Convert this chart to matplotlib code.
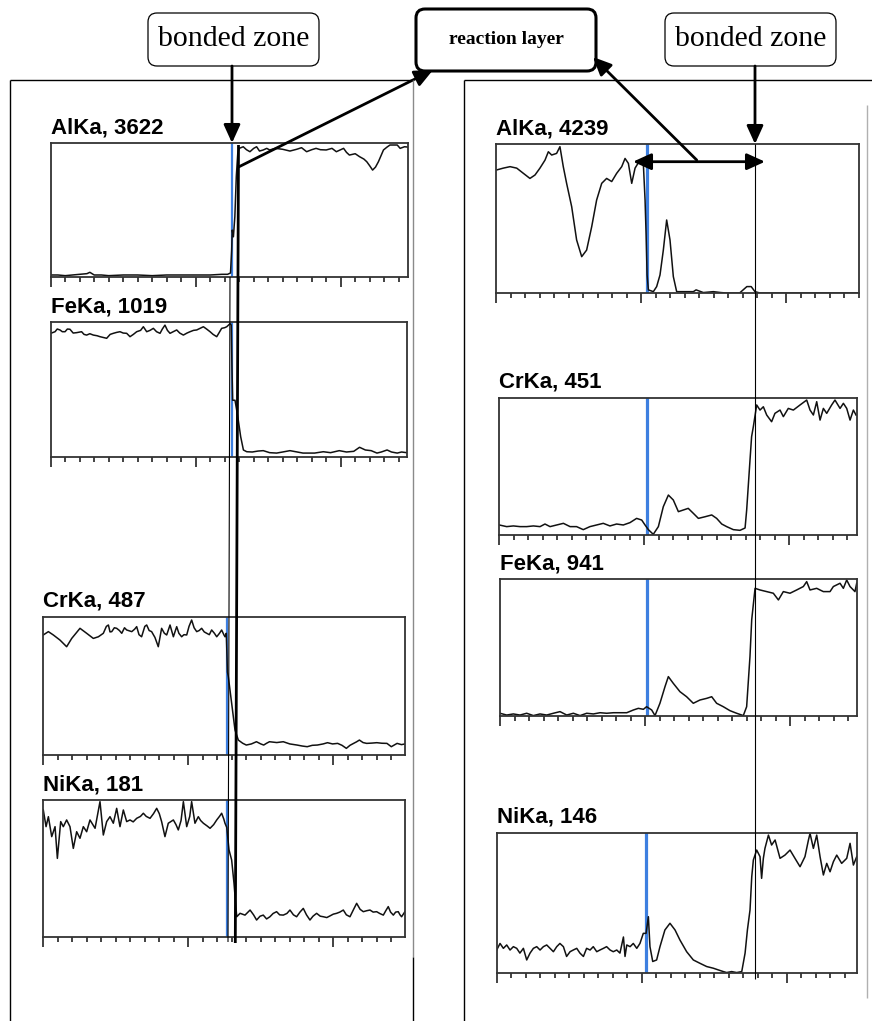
import numpy as np
import matplotlib
matplotlib.use('Agg')
import matplotlib.pyplot as plt
from matplotlib.patches import FancyArrowPatch, FancyBboxPatch, ArrowStyle
from matplotlib.ticker import MultipleLocator

W, H = 872, 1021
PX_PER_UM = 14.5

# EDS line scans: (distance in um, intensity in % of full scale)
al_a = np.array([
    (0, 1.5), (0.5, 1.5), (1, 1.0), (1.5, 1.5), (2, 2.0), (2.5, 2.5), (2.7, 3.5), (3, 1.5), (3.5, 1.5),
    (4, 1.0), (5, 1.5), (6, 1.5), (7, 1.0), (8, 1.5), (9, 1.5), (10, 1.5), (11, 1.5), (11.8, 2.0),
    (12.2, 2.0), (12.4, 3.0), (12.48, 20), (12.52, 35), (12.6, 30), (12.7, 45), (12.8, 75), (12.9, 92),
    (13.0, 96), (13.28, 97.2), (13.5, 95), (13.74, 93.5), (14.0, 96), (14.2, 97.2), (14.4, 94), (14.66, 94.8),
    (14.9, 96), (15.1, 94.8), (15.5, 96), (16.0, 95.3), (16.5, 94), (16.96, 95.3), (17.3, 96.5), (17.65, 93.5),
    (18.0, 95), (18.3, 96), (18.6, 95), (19.0, 94.8), (19.4, 96), (19.7, 93.5), (20.0, 95), (20.2, 96),
    (20.4, 93), (20.6, 91), (21.0, 92), (21.3, 89.8), (21.6, 88), (21.8, 86), (22.0, 83), (22.2, 79.8),
    (22.4, 82), (22.6, 86), (22.95, 94.8), (23.2, 97), (23.4, 98.5), (23.9, 98.5), (24.1, 96), (24.4, 97.2),
    (24.6, 97)])

fe_a = np.array([
    (0, 91.8), (0.3, 93.0), (0.45, 95), (0.64, 94.3), (0.8, 93), (0.99, 93.0), (1.15, 95), (1.33, 94.8),
    (1.55, 92), (1.79, 92.3), (2.13, 93.0), (2.3, 91), (2.48, 90.5), (2.7, 91.5), (2.94, 90.5), (3.2, 90),
    (3.4, 89.3), (3.86, 88.1), (4.1, 91), (4.32, 91.8), (4.55, 92.5), (4.78, 93.0), (5.0, 92), (5.24, 91.8),
    (5.47, 89.3), (5.7, 91), (5.93, 93.0), (6.2, 94), (6.39, 96.7), (6.62, 93.0), (6.85, 94), (7.08, 95.5),
    (7.3, 93), (7.54, 91.8), (7.7, 95), (7.88, 97.9), (8.05, 94), (8.23, 91.8), (8.45, 93), (8.69, 94.3),
    (8.9, 92), (9.15, 90.5), (9.4, 92), (9.61, 93.0), (9.85, 94), (10.07, 94.3), (10.3, 95.5), (10.53, 96.7),
    (10.75, 95), (10.99, 93.0), (11.2, 91), (11.45, 89.3), (11.6, 92), (11.79, 95.5), (12.0, 96), (12.14, 96.7),
    (12.37, 99), (12.45, 98), (12.5, 67), (12.55, 42), (12.71, 42), (12.9, 30), (13.1, 15), (13.29, 5.0),
    (13.52, 3.7), (13.9, 3.5), (14.3, 4.2), (14.66, 4.5), (15.1, 3.0), (15.58, 2.7), (16.0, 3.5), (16.5, 4.5),
    (17.0, 3.5), (17.4, 2.7), (17.8, 2.7), (18.2, 2.7), (18.8, 3.7), (19.3, 3.0), (19.9, 4.5), (20.4, 3.5),
    (20.9, 4.0), (21.3, 7.0), (21.7, 5.0), (22.1, 4.5), (22.5, 2.7), (22.8, 3.5), (23.2, 5.0), (23.5, 3.5),
    (23.9, 2.7), (24.2, 3.5), (24.55, 3.0)])

cr_a = np.array([
    (0, 86.8), (0.35, 89.2), (0.69, 86.8), (1.15, 83.1), (1.61, 78.3), (1.96, 84.3), (2.25, 88), (2.53, 91.6),
    (2.99, 88.0), (3.45, 84.3), (3.8, 85.5), (4.14, 88.0), (4.35, 93), (4.49, 94.0), (4.6, 89), (4.72, 89.2),
    (4.9, 92), (5.06, 91.6), (5.25, 90), (5.41, 88.0), (5.6, 92), (5.75, 90.4), (6.1, 89.2), (6.3, 91),
    (6.44, 92.8), (6.6, 87), (6.78, 85.5), (7.0, 93), (7.13, 94.0), (7.3, 90), (7.47, 89.2), (7.7, 85),
    (7.93, 78.3), (8.16, 91.6), (8.35, 88), (8.51, 86.8), (8.74, 94.0), (8.97, 85.5), (9.2, 92.8), (9.35, 88),
    (9.54, 85.5), (9.7, 87), (9.89, 86.8), (10.05, 93), (10.23, 97.6), (10.4, 92), (10.58, 89.2), (10.75, 90),
    (10.92, 91.6), (11.1, 89), (11.27, 88.0), (11.45, 87), (11.61, 90.4), (11.8, 88), (11.96, 85.5),
    (12.15, 88), (12.3, 90.4), (12.45, 87), (12.53, 85.5), (12.62, 88), (12.7, 60), (12.76, 56.6),
    (12.99, 37.4), (13.22, 18.1), (13.45, 10.8), (13.75, 8.5), (14.0, 7.2), (14.35, 8), (14.7, 9.6),
    (15.0, 8), (15.2, 7.2), (15.4, 8.5), (15.6, 9.6), (16.1, 9), (16.55, 9.6), (17.0, 8), (17.5, 7.2),
    (17.85, 6.5), (18.2, 6.0), (18.55, 7), (18.9, 7.2), (19.3, 8), (19.6, 8.9), (19.95, 8), (20.3, 8.4),
    (20.6, 7), (20.9, 4.8), (21.15, 7), (21.4, 8.4), (21.6, 9.5), (21.8, 10.8), (22.05, 9), (22.3, 8.4),
    (22.65, 8.6), (23.0, 8.9), (23.35, 8.5), (23.7, 8.4), (24.0, 6.0), (24.4, 8.4), (24.7, 7.5), (24.9, 7.9)])

ni_a = np.array([
    (0, 92.7), (0.19, 80.5), (0.35, 87.8), (0.58, 73.2), (0.81, 80.5), (0.97, 57.3), (1.2, 84.2), (1.38, 80.5),
    (1.61, 85.4), (1.84, 80.5), (2.07, 64.6), (2.3, 76.8), (2.53, 72.0), (2.76, 80.5), (2.99, 76.8),
    (3.22, 85.4), (3.57, 79.3), (3.91, 98.8), (4.14, 74.4), (4.37, 84.2), (4.6, 87.8), (4.83, 83.0),
    (5.06, 93.9), (5.29, 80.5), (5.52, 92.7), (5.75, 84.2), (5.98, 85.4), (6.2, 84), (6.44, 86.6), (6.7, 88),
    (6.9, 90.3), (7.1, 88), (7.36, 86.6), (7.6, 90), (7.82, 93.9), (8.0, 90), (8.16, 84.2), (8.39, 73.2),
    (8.62, 83.0), (8.97, 85.4), (9.15, 82), (9.31, 78.1), (9.5, 85), (9.66, 98.8), (9.89, 80.5), (10.1, 88),
    (10.23, 98.8), (10.46, 83.0), (10.69, 87.8), (10.85, 85), (11.04, 83.0), (11.3, 81), (11.5, 79.3),
    (11.75, 82), (11.96, 85.4), (12.15, 88), (12.3, 90.3), (12.45, 86), (12.53, 83.0), (12.65, 80),
    (12.81, 63.4), (12.99, 56.1), (13.15, 39.2), (13.34, 14.6), (13.57, 17.1), (13.91, 15.8), (14.26, 19.5),
    (14.5, 16), (14.71, 12.2), (14.95, 15), (15.17, 15.8), (15.4, 13), (15.63, 14.6), (15.85, 17),
    (16.09, 18.3), (16.3, 16), (16.55, 15.8), (16.8, 17), (17.01, 19.5), (17.25, 16), (17.47, 14.6),
    (17.7, 18), (17.93, 20.7), (18.15, 16), (18.39, 12.2), (18.6, 15), (18.85, 17.1), (19.1, 15),
    (19.31, 14.6), (19.55, 14), (19.77, 15.2), (20.0, 16.5), (20.23, 17.1), (20.45, 18), (20.69, 19.5),
    (20.9, 16), (21.15, 14.6), (21.4, 20), (21.61, 24.4), (21.85, 20), (22.07, 18.3), (22.3, 19),
    (22.53, 19.5), (22.75, 18), (22.99, 18.3), (23.2, 17), (23.45, 15.8), (23.62, 19), (23.79, 22.0),
    (23.95, 18), (24.14, 15.8), (24.3, 18), (24.48, 18.3), (24.6, 16), (24.71, 14.6), (24.94, 18.3)])

al_b = np.array([
    (0.05, 82.8), (0.5, 84), (0.97, 85), (1.43, 84), (1.89, 80.5), (2.34, 77.1), (2.69, 79.4), (3.03, 84),
    (3.38, 89.4), (3.61, 95), (3.84, 92.8), (4.18, 93.9), (4.41, 98.4), (4.64, 85), (4.87, 73.8),
    (5.22, 58.1), (5.56, 35.8), (5.91, 24.6), (6.25, 29), (6.6, 44.7), (6.94, 62.6), (7.29, 73.8),
    (7.63, 77.1), (7.98, 75), (8.32, 80.5), (8.67, 85), (8.9, 90.5), (9.13, 87.2), (9.36, 73.8), (9.59, 84),
    (9.93, 89.4), (10.16, 87.2), (10.28, 62.6), (10.35, 40), (10.42, 12.3), (10.51, 2.3), (10.85, 1.1),
    (11.08, 4.5), (11.31, 12.3), (11.54, 29), (11.77, 49.2), (12.0, 35.8), (12.23, 11.2), (12.46, 1.1),
    (12.92, 1.1), (13.61, 1.1), (13.8, 2.3), (14.3, 0.5), (14.99, 1.1), (15.5, 0.5), (15.9, 0.2),
    (16.8, 0.2), (17.3, 4.5), (17.6, 4.5), (17.86, 1.1), (18.2, 0.2), (20.5, 0.2), (23.0, 0.2), (25.0, 0.2)])

cr_b = np.array([
    (0.0, 7.3), (0.51, 6.1), (0.97, 6.6), (1.43, 6.1), (1.89, 6.1), (2.35, 6.6), (2.81, 6.1), (3.15, 8.0),
    (3.5, 6.1), (3.96, 7.3), (4.42, 8.5), (4.88, 6.1), (5.33, 6.1), (5.79, 3.9), (6.25, 6.1), (6.71, 7.3),
    (7.17, 8.5), (7.63, 6.6), (8.09, 8.0), (8.55, 7.3), (9.01, 9.0), (9.47, 12.1), (9.82, 10.9),
    (10.05, 7.3), (10.28, 3.9), (10.62, 0.5), (10.97, 6.1), (11.31, 20.6), (11.66, 29.1), (12.0, 25.5),
    (12.35, 17.0), (12.69, 18.2), (13.03, 19.4), (13.38, 15.8), (13.73, 12.1), (14.19, 13.3), (14.65, 14.6),
    (14.99, 12.1), (15.34, 8.0), (15.68, 6.1), (16.14, 3.9), (16.6, 3.4), (16.95, 5.1), (17.06, 18.2),
    (17.29, 54.6), (17.4, 71.6), (17.52, 78.9), (17.75, 94.7), (17.98, 91.0), (18.21, 93.4), (18.44, 87.4),
    (18.78, 82.5), (19.01, 88.6), (19.36, 91.0), (19.59, 86.2), (19.93, 92.2), (20.28, 91.0), (20.74, 94.7),
    (21.2, 98.3), (21.43, 91.0), (21.66, 87.4), (21.89, 97.1), (22.12, 83.7), (22.35, 92.2), (22.58, 88.6),
    (22.92, 94.7), (23.15, 98.3), (23.5, 92.2), (23.73, 95.9), (23.96, 92.2), (24.19, 83.7), (24.42, 91.0),
    (24.6, 87.4)])

fe_b = np.array([
    (0.0, 2.0), (0.46, 0.7), (0.92, 1.5), (1.38, 0.7), (1.84, 2.0), (2.3, 0.3), (2.76, 1.5), (3.22, 0.7),
    (3.68, 2.0), (4.14, 3.2), (4.6, 0.7), (5.06, 2.0), (5.52, 0.3), (5.98, 2.0), (6.44, 1.5), (6.9, 2.4),
    (7.36, 2.0), (7.82, 2.4), (8.28, 2.4), (8.74, 2.4), (9.2, 4.4), (9.54, 5.6), (9.89, 4.9), (10.11, 6.8),
    (10.46, 4.4), (10.69, 0.3), (11.03, 9.3), (11.38, 21.5), (11.61, 28.8), (11.95, 23.9), (12.41, 17.8),
    (12.87, 14.1), (13.33, 9.3), (13.79, 11.7), (14.25, 12.9), (14.6, 14.1), (14.94, 9.3), (15.4, 6.8),
    (15.86, 3.9), (16.32, 2.0), (16.78, 0.3), (17.01, 6.8), (17.24, 43.6), (17.36, 70.5), (17.59, 93.4),
    (17.93, 92.2), (18.39, 91.0), (18.85, 89.8), (19.2, 84.9), (19.54, 91.0), (20.0, 89.8), (20.46, 92.2),
    (20.92, 94.7), (21.15, 98.3), (21.38, 92.2), (21.84, 93.4), (22.3, 91.0), (22.76, 91.0), (22.99, 94.7),
    (23.45, 97.1), (23.68, 93.4), (23.91, 99.5), (24.14, 94.7), (24.48, 91.0), (24.6, 97.1)])

ni_b = np.array([
    (0, 16.2), (0.23, 20.9), (0.46, 17.4), (0.69, 19.8), (0.92, 16.2), (1.15, 18.6), (1.38, 17.4), (1.6, 14.0),
    (1.84, 17.4), (2.07, 9.1), (2.3, 14.0), (2.53, 17.4), (2.76, 18.6), (2.99, 16.2), (3.22, 18.6),
    (3.45, 19.8), (3.68, 17.4), (3.91, 15.0), (4.14, 18.6), (4.36, 20.9), (4.6, 18.6), (4.82, 11.6),
    (5.06, 15.0), (5.28, 16.2), (5.52, 17.4), (5.74, 14.0), (5.98, 11.6), (6.2, 17.4), (6.44, 16.2),
    (6.66, 18.6), (6.9, 15.0), (7.12, 16.2), (7.36, 17.4), (7.58, 18.6), (7.82, 16.2), (8.04, 15.0),
    (8.28, 16.2), (8.5, 14.0), (8.74, 25.5), (8.85, 11.6), (8.97, 19.8), (9.2, 18.6), (9.42, 20.9),
    (9.66, 17.4), (9.88, 20.9), (10.11, 28.1), (10.3, 28.1), (10.46, 40.0), (10.57, 18.6), (10.76, 8.0),
    (11.03, 9.1), (11.26, 18.6), (11.6, 30.5), (11.95, 35.3), (12.3, 30.5), (12.64, 23.3), (13.1, 15.0),
    (13.56, 9.1), (14.02, 6.7), (14.48, 4.4), (14.94, 3.2), (15.28, 2.0), (15.63, 0.8), (15.86, 0.1),
    (16.2, 0.8), (16.55, 0.1), (16.9, 0.8), (17.13, 14.0), (17.29, 30.5), (17.47, 44.8), (17.59, 68.6),
    (17.7, 80.5), (17.93, 87.6), (18.16, 82.9), (18.27, 67.4), (18.39, 81.7), (18.5, 88.8), (18.74, 98.3),
    (18.96, 91.2), (19.2, 94.8), (19.54, 81.7), (19.88, 84.0), (20.23, 87.6), (20.57, 81.7), (20.92, 75.7),
    (21.26, 82.9), (21.5, 94.8), (21.61, 99.5), (21.84, 88.8), (22.07, 98.3), (22.3, 82.9), (22.53, 69.8),
    (22.76, 78.1), (22.99, 72.1), (23.22, 79.3), (23.45, 84.0), (23.79, 78.1), (24.14, 81.7), (24.37, 92.4),
    (24.6, 76.9), (24.83, 82.9)])

titles = ['AlKa, 3622', 'FeKa, 1019', 'CrKa, 487', 'NiKa, 181',
          'AlKa, 4239', 'CrKa, 451', 'FeKa, 941', 'NiKa, 146']
scans = [al_a, fe_a, cr_a, ni_a, al_b, cr_b, fe_b, ni_b]
interface_x = [12.48, 12.52, 12.65, 12.65, 10.39, 10.21, 10.16, 10.3]

# plot boxes in pixels: left, top, right, bottom
boxes = [(50.7, 143, 407.7, 277), (50.7, 322.3, 406.7, 456.7),
         (43.3, 616.7, 405, 755), (43.3, 800, 405, 936.7),
         (496, 144.3, 859.3, 293.3), (499.3, 397.7, 856.7, 535),
         (500, 579.3, 857.3, 716), (496.7, 832.7, 857.3, 972.7)]

fig = plt.figure(figsize=(W / 100, H / 100), dpi=100)
fig.patch.set_facecolor('white')

for i, (title, scan, xi, (l, t, r, b)) in enumerate(zip(titles, scans, interface_x, boxes)):
    ax = fig.add_axes([l / W, 1 - b / H, (r - l) / W, (b - t) / H])
    ax.axvline(xi, color='#3d7fe0', lw=1.6 if i < 4 else 2.3, zorder=1.5)
    ax.plot(scan[:, 0], scan[:, 1], color='#111111', lw=1.1, zorder=2)
    ax.set_xlim(0, (r - l) / PX_PER_UM)
    ax.set_ylim(0, 100)
    ax.set_yticks([])
    ax.xaxis.set_major_locator(MultipleLocator(10))
    ax.xaxis.set_minor_locator(MultipleLocator(1))
    ax.tick_params(axis='x', which='major', length=7, width=1.2, color='#222', labelbottom=False)
    ax.tick_params(axis='x', which='minor', length=3.5, width=1.2, color='#222')
    for s in ax.spines.values():
        s.set_linewidth(1.3)
        s.set_color('#333')
    ax.annotate(title, xy=(0, 1), xycoords='axes fraction', xytext=(0, 7.2),
                textcoords='offset points', ha='left', va='baseline',
                fontsize=16, fontweight='bold', family=['Liberation Sans', 'DejaVu Sans'])

# overlay in pixel coordinates for frames, labels and arrows
ann = fig.add_axes([0, 0, 1, 1], zorder=10)
ann.set_xlim(0, W)
ann.set_ylim(H, 0)
ann.axis('off')


def line(p0, p1, lw=1.0, color='black'):
    ann.plot([p0[0], p1[0]], [p0[1], p1[1]], color=color, lw=lw, solid_capstyle='butt')


def arrow(p0, p1, style='-|>'):
    st = ArrowStyle(style, head_length=0.55, head_width=0.25)
    ann.add_patch(FancyArrowPatch(p0, p1, arrowstyle=st, mutation_scale=20, lw=2.0,
                                  color='black', shrinkA=0, shrinkB=0))


def label_box(x0, y0, x1, y1, text, lw, **kw):
    ann.add_patch(FancyBboxPatch((x0, y0), x1 - x0, y1 - y0,
                                 boxstyle='round,pad=0,rounding_size=9',
                                 fc='white', ec='black', lw=lw))
    ann.text((x0 + x1) / 2, (y0 + y1) / 2, text, ha='center', va='center',
             family=['Liberation Serif', 'DejaVu Serif'], **kw)


# panel frames
line((10, 80), (413, 80))
line((10, 80), (10, H))
line((413, 80), (413, 957), color='#8a8a8a')
line((413, 957), (413, H))
line((464, 80), (W, 80))
line((464, 80), (464, H))
line((867, 105), (867, 998), color='#b0b0b0')

label_box(148, 13, 319, 66, 'bonded zone', 0.9, fontsize=21.5)
label_box(416, 9, 596, 71, 'reaction layer', 2.2, fontsize=14, fontweight='bold')
label_box(665, 13, 836, 66, 'bonded zone', 0.9, fontsize=21.5)

# left specimen: interface markers
line((238.5, 145), (235.3, 943), lw=2.0)
line((230, 277), (228, 942), lw=0.8)
arrow((232, 66), (232, 143))
arrow((238.5, 167), (433, 70))

# right specimen: reaction layer width
arrow((755, 66), (755, 144))
line((755, 144), (755, 979), lw=0.8)
arrow((633, 161.7), (765, 161.7), style='<|-|>')
arrow((696.7, 160), (593, 57))

fig.savefig('out.png', dpi=100, facecolor='white')
